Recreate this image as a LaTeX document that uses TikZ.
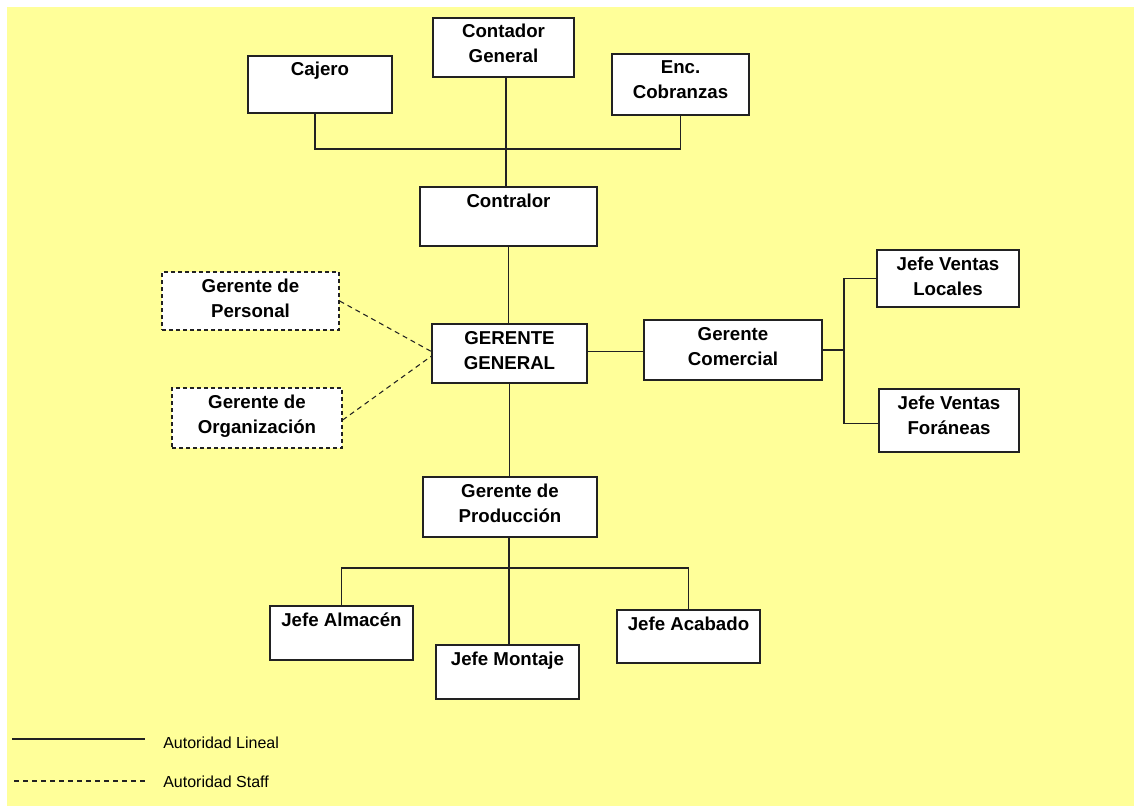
\documentclass[tikz,border=0pt]{standalone}
\usepackage{fontspec}
\setmainfont{Liberation Sans}
\definecolor{bgyellow}{HTML}{FFFF99}
\definecolor{linecol}{HTML}{222222}
\newcommand\bt[3]{\parbox[c][\dimexpr#2pt*3/4\relax][t]{\dimexpr#1pt*3/4\relax}{\fontsize{14pt}{18.75pt}\selectfont\bfseries\centering\rule{0pt}{15pt}#3\par}}
\begin{document}
\begin{tikzpicture}[x=0.75pt,y=-0.75pt,
  orgbox/.style={draw=linecol, fill=white, inner sep=0pt, line width=1pt},
  staffbox/.style={orgbox, dash pattern=on 3pt off 2.25pt},
  lineal/.style={draw=linecol, line width=0.9pt},
  staff/.style={draw=linecol, line width=0.8pt, dash pattern=on 3.75pt off 3pt},
  legtext/.style={anchor=west, inner sep=0pt, font=\fontsize{12pt}{14pt}\selectfont}]
\useasboundingbox (0,0) rectangle (1134,806);
\fill[white] (0,0) rectangle (1134,806);
\fill[bgyellow] (7,7) rectangle (1134,806);

% boxes
\node[orgbox] (cajero) at (320,84.5) {\bt{144}{57}{Cajero}};
\node[orgbox] (contador) at (503.5,47.5) {\bt{141}{59}{Contador\\General}};
\node[orgbox] (enc) at (680.5,84.5) {\bt{137}{61}{Enc.\\Cobranzas}};
\node[orgbox] (contralor) at (508.5,216.5) {\bt{177}{59}{Contralor}};
\node[orgbox] (gg) at (509.5,353.5) {\bt{155}{59}{GERENTE\\GENERAL}};
\node[orgbox] (comercial) at (733,350) {\bt{178}{60}{Gerente\\Comercial}};
\node[orgbox] (locales) at (948,278.5) {\bt{142}{57}{Jefe Ventas\\Locales}};
\node[orgbox] (foraneas) at (949,420.5) {\bt{140}{63}{Jefe Ventas\\Foráneas}};
\node[staffbox] (personal) at (250.5,301) {\bt{177}{58}{Gerente de\\Personal}};
\node[staffbox] (organizacion) at (257,418) {\bt{170}{60}{Gerente de\\Organización}};
\node[orgbox] (produccion) at (510,507) {\bt{174}{60}{Gerente de\\Producción}};
\node[orgbox] (almacen) at (341.5,633) {\bt{143}{54}{Jefe Almacén}};
\node[orgbox] (montaje) at (507.5,672) {\bt{143}{54}{Jefe Montaje}};
\node[orgbox] (acabado) at (688.5,636.5) {\bt{143}{53}{Jefe Acabado}};

% buses
\coordinate (topbus) at (506,149);
\coordinate (ventasbus) at (844,350);
\coordinate (prodbus) at (509,568);

% connectors
\draw[lineal] ([xshift=-3.75pt]cajero.south) |- (topbus) -| (enc.south);
\draw[lineal] (topbus |- contador.south) -- (topbus |- contralor.north);
\draw[lineal] (contralor.south) -- (contralor.south |- gg.north);
\draw[lineal] ([yshift=1.5pt]gg.east) -- ([yshift=1.5pt]gg.east -| comercial.west);
\draw[lineal] (comercial.east) -- (ventasbus);
\draw[lineal] (ventasbus) |- (locales.west);
\draw[lineal] (ventasbus) |- ([yshift=-2pt]foraneas.west);
\draw[staff] (personal.east) -- ([yshift=1.5pt]gg.west);
\draw[staff] ([yshift=-1.5pt]organizacion.east) -- ([yshift=-2pt]gg.west);
\draw[lineal] (gg.south) -- (gg.south |- produccion.north);
\draw[lineal] (prodbus |- produccion.south) -- (prodbus |- montaje.north);
\draw[lineal] (almacen.north) |- (prodbus) -| (acabado.north);

% legend
\coordinate (l1a) at (12,739);
\coordinate (l1b) at (145,739);
\coordinate (l2a) at (14,781);
\coordinate (l2b) at (146,781);
\draw[lineal] (l1a) -- (l1b);
\draw[staff] (l2a) -- (l2b);
\node[legtext] (leg1) at (163,743) {Autoridad Lineal};
\node[legtext] (leg2) at (163,782) {Autoridad Staff};
\end{tikzpicture}
\end{document}
